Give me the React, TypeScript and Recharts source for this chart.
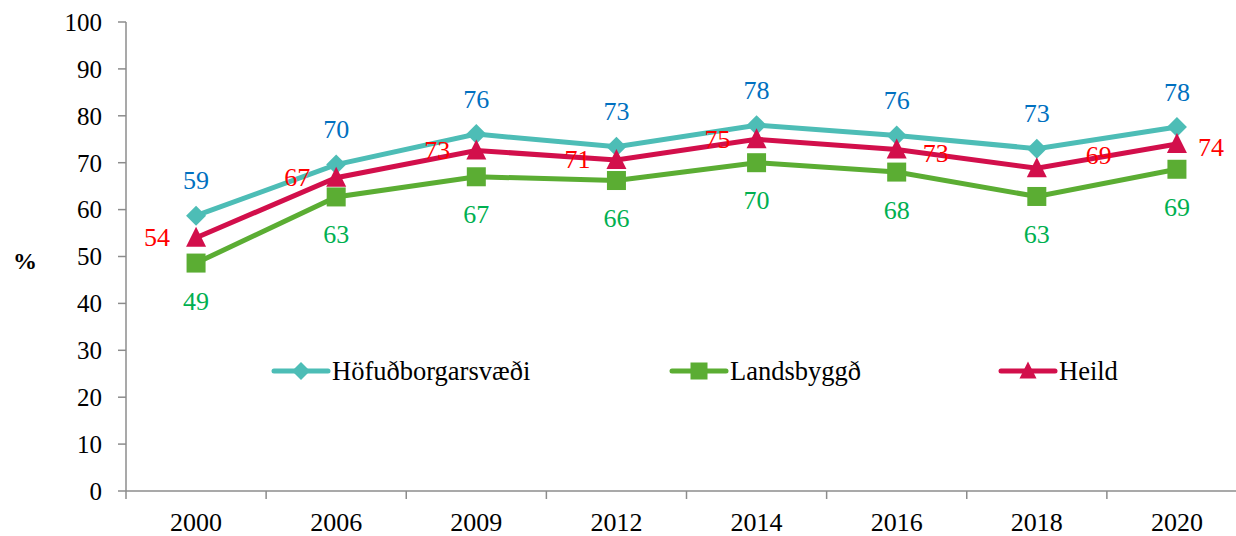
import React from 'react';
import { LineChart, Line, XAxis, YAxis, Legend, LabelList } from 'recharts';

const years = ['2000', '2006', '2009', '2012', '2014', '2016', '2018', '2020'];
const hofudborg = [58.7, 69.6, 76.1, 73.4, 78.0, 75.8, 73.0, 77.6];
const landsbyggd = [48.6, 62.7, 67.0, 66.2, 70.0, 68.0, 62.8, 68.6];
const heild = [54.0, 66.8, 72.6, 70.6, 75.0, 72.8, 68.8, 74.0];
const yTicks = [0, 10, 20, 30, 40, 50, 60, 70, 80, 90, 100];

const data = years.map((year, i) => ({
  year,
  hofudborg: hofudborg[i],
  landsbyggd: landsbyggd[i],
  heild: heild[i],
}));

const FONT = '"Liberation Serif", "Times New Roman", serif';
const AXIS = '#8c8c8c';
const TEAL = '#4dbdb6';
const GREEN = '#5bad33';
const CRIMSON = '#d20f4b';

function Diamond({ cx, cy, r = 10, color }: { cx: number; cy: number; r?: number; color: string }) {
  return <path d={`M${cx},${cy - r}L${cx + r},${cy}L${cx},${cy + r}L${cx - r},${cy}Z`} fill={color} />;
}
function Square({ cx, cy, s = 19, color }: { cx: number; cy: number; s?: number; color: string }) {
  return <rect x={cx - s / 2} y={cy - s / 2} width={s} height={s} fill={color} />;
}
function Triangle({ cx, cy, w = 20, color }: { cx: number; cy: number; w?: number; color: string }) {
  const h = w;
  return <path d={`M${cx},${cy - h / 2 - 1}L${cx + w / 2},${cy + h / 2 - 1}L${cx - w / 2},${cy + h / 2 - 1}Z`} fill={color} />;
}

const dotFor = (kind: string) => (props: any) => {
  const { cx, cy, index } = props;
  if (cx == null || cy == null) return <g key={index} />;
  if (kind === 'diamond') return <Diamond key={index} cx={cx} cy={cy} color={TEAL} />;
  if (kind === 'square') return <Square key={index} cx={cx} cy={cy} color={GREEN} />;
  return <Triangle key={index} cx={cx} cy={cy} color={CRIMSON} />;
};

const textStyle = { fontFamily: FONT, fontSize: 26 };

const AboveLabel = (props: any) => {
  const { x, y, value } = props;
  return (
    <text x={x} y={y - 35} textAnchor="middle" dominantBaseline="central" fill="#0070c0" style={textStyle}>
      {Math.round(value)}
    </text>
  );
};
const BelowLabel = (props: any) => {
  const { x, y, value } = props;
  return (
    <text x={x} y={y + 38} textAnchor="middle" dominantBaseline="central" fill="#00b050" style={textStyle}>
      {Math.round(value)}
    </text>
  );
};
const SideLabel = (props: any) => {
  const { x, y, value, index } = props;
  let dx = index < 5 ? -39 : 39;
  let dy = index < 5 ? 0 : 4;
  if (index === 6) { dx = 62; dy = -13; }
  if (index === 7) { dx = 34; dy = 4; }
  return (
    <text x={x + dx} y={y + dy} textAnchor="middle" dominantBaseline="central" fill="#ff0000" style={textStyle}>
      {Math.round(value)}
    </text>
  );
};

const XTick = (props: any) => {
  const { x, y, payload } = props;
  const half = payload?.offset ?? 70;
  return (
    <g>
      <line x1={x - half} x2={x - half} y1={y} y2={y + 8} stroke={AXIS} strokeWidth={1.5} />
      <text x={x} y={y + 40} textAnchor="middle" fill="#000" style={{ fontFamily: FONT, fontSize: 26 }}>
        {payload.value}
      </text>
    </g>
  );
};

const legendItems = [
  { name: 'Höfuðborgarsvæði', color: TEAL, kind: 'diamond', left: 271 },
  { name: 'Landsbyggð', color: GREEN, kind: 'square', left: 669 },
  { name: 'Heild', color: CRIMSON, kind: 'triangle', left: 998 },
];

const renderLegend = () => (
  <div style={{ position: 'relative', width: 1260, height: 34 }}>
    {legendItems.map((it) => (
      <div key={it.name} style={{ position: 'absolute', left: it.left, top: 0, display: 'flex', alignItems: 'center', height: 34 }}>
        <svg width={60} height={34}>
          <line x1={3} x2={57} y1={17} y2={17} stroke={it.color} strokeWidth={5} strokeLinecap="round" />
          {it.kind === 'diamond' && <Diamond cx={30} cy={17} r={9} color={it.color} />}
          {it.kind === 'square' && <Square cx={30} cy={17} s={17} color={it.color} />}
          {it.kind === 'triangle' && <Triangle cx={30} cy={17} w={17} color={it.color} />}
        </svg>
        <span style={{ fontFamily: FONT, fontSize: 26.5, color: '#000', marginLeft: 1 }}>{it.name}</span>
      </div>
    ))}
  </div>
);

export default function App() {
  return (
    <div style={{ position: 'fixed', left: 0, top: 0, width: 1236, height: 536, overflow: 'hidden', background: '#fff' }}>
      <LineChart width={1260} height={536} data={data} margin={{ top: 22, right: 13, bottom: 0, left: 0 }}>
        <XAxis
          dataKey="year"
          scale="band"
          height={45}
          tick={<XTick />}
          tickLine={false}
          tickSize={0}
          tickMargin={0}
          axisLine={{ stroke: AXIS, strokeWidth: 1.5 }}
          interval={0}
        />
        <YAxis
          width={126}
          domain={[0, 100]}
          ticks={yTicks}
          interval={0}
          tickSize={8}
          tickMargin={16}
          tickLine={{ stroke: AXIS, strokeWidth: 1.5 }}
          axisLine={{ stroke: AXIS, strokeWidth: 1.5 }}
          tick={{ fill: '#000', fontFamily: FONT, fontSize: 25 }}
          label={{ value: '%', position: 'insideLeft', offset: 13, dy: 4, style: { fontFamily: FONT, fontSize: 24, fontWeight: 'bold', fill: '#000' } }}
        />
        <Legend verticalAlign="middle" align="center" layout="horizontal" content={renderLegend} wrapperStyle={{ left: 0, top: 354, width: 1260 }} />
        <Line dataKey="hofudborg" name="Höfuðborgarsvæði" stroke={TEAL} strokeWidth={5} dot={dotFor('diamond')} activeDot={false} isAnimationActive={false}>
          <LabelList dataKey="hofudborg" content={<AboveLabel />} />
        </Line>
        <Line dataKey="landsbyggd" name="Landsbyggð" stroke={GREEN} strokeWidth={5} dot={dotFor('square')} activeDot={false} isAnimationActive={false}>
          <LabelList dataKey="landsbyggd" content={<BelowLabel />} />
        </Line>
        <Line dataKey="heild" name="Heild" stroke={CRIMSON} strokeWidth={5} dot={dotFor('triangle')} activeDot={false} isAnimationActive={false}>
          <LabelList dataKey="heild" content={<SideLabel />} />
        </Line>
      </LineChart>
    </div>
  );
}
